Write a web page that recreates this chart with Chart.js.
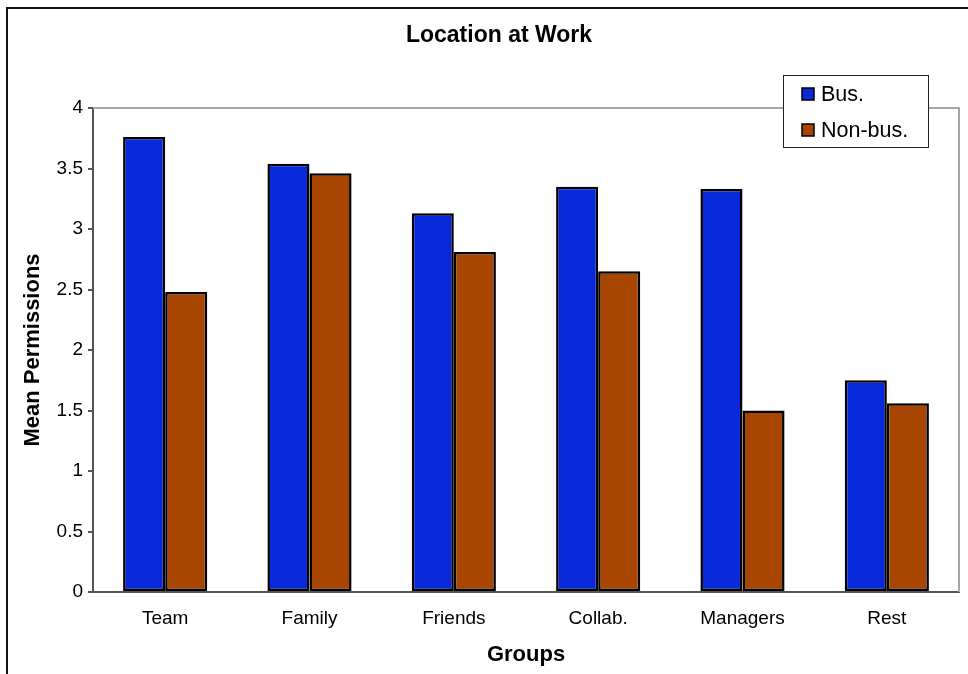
<!DOCTYPE html>
<html lang="en">
<head>
    <meta charset="UTF-8">
    <title>Location at Work</title>
    <style>
        html, body { margin: 0; padding: 0; background: #fff; }
        #wrap { width: 968px; height: 674px; }
    </style>
</head>
<body>
<div id="wrap">
    <canvas id="workChart" width="968" height="674"></canvas>
</div>

<script src="https://cdn.jsdelivr.net/npm/chart.js"></script>
<script>
    // Data
    const groups = ['Team', 'Family', 'Friends', 'Collab.', 'Managers', 'Rest'];
    const busValues = [3.76, 3.54, 3.13, 3.35, 3.33, 1.75];
    const nonBusValues = [2.48, 3.46, 2.81, 2.65, 1.50, 1.56];
    const yTicks = [0, 0.5, 1, 1.5, 2, 2.5, 3, 3.5, 4];
    const chartTitle = 'Location at Work';

    const FONT = "'Liberation Sans', Arial, sans-serif";

    // white background, left/top frame lines, and the title
    const framePlugin = {
        id: 'frame',
        beforeDraw(chart) {
            const c = chart.ctx;
            c.save();
            c.fillStyle = '#fff';
            c.fillRect(0, 0, chart.width, chart.height);
            c.strokeStyle = '#111';
            c.lineWidth = 2;
            c.beginPath();
            c.moveTo(7, chart.height);
            c.lineTo(7, 8);
            c.lineTo(chart.width, 8);
            c.stroke();
            c.fillStyle = '#000';
            c.font = 'bold 23px ' + FONT;
            c.textAlign = 'center';
            c.textBaseline = 'middle';
            c.fillText(chartTitle, 499, 36);
            c.restore();
        },
        // gray top and right edges of the plot area
        beforeDatasetsDraw(chart) {
            const a = chart.chartArea;
            const c = chart.ctx;
            c.save();
            c.strokeStyle = '#a6a6a6';
            c.lineWidth = 2;
            c.beginPath();
            c.moveTo(a.left, a.top);
            c.lineTo(a.right, a.top);
            c.lineTo(a.right, a.bottom);
            c.stroke();
            c.restore();
        }
    };

    // boxed legend at the top right, like the original
    const boxLegend = {
        id: 'boxLegend',
        afterDraw(chart) {
            const c = chart.ctx;
            const x = 783, y = 75, w = 145, h = 72;
            c.save();
            c.fillStyle = '#fff';
            c.fillRect(x, y, w, h);
            c.strokeStyle = '#222';
            c.lineWidth = 1;
            c.strokeRect(x + 0.5, y + 0.5, w, h);
            c.font = '21.5px ' + FONT;
            c.textBaseline = 'middle';
            chart.data.datasets.forEach((ds, i) => {
                const cy = 94 + i * 36;
                c.fillStyle = ds.backgroundColor;
                c.fillRect(802, cy - 6, 12, 12);
                c.strokeStyle = '#000';
                c.lineWidth = 1.5;
                c.strokeRect(802, cy - 6, 12, 12);
                c.fillStyle = '#000';
                c.fillText(ds.label, 821, cy + 1);
            });
            c.restore();
        }
    };

    const ctx = document.getElementById('workChart').getContext('2d');
    const workChart = new Chart(ctx, {
        type: 'bar',
        data: {
            labels: groups,
            datasets: [{
                label: 'Bus.',
                data: busValues,
                backgroundColor: '#0829D9',
                borderColor: '#000',
                borderWidth: 2.5,
                borderSkipped: false,
                categoryPercentage: 0.583,
                barPercentage: 1.0
            }, {
                label: 'Non-bus.',
                data: nonBusValues,
                backgroundColor: '#A84500',
                borderColor: '#000',
                borderWidth: 2.5,
                borderSkipped: false,
                categoryPercentage: 0.583,
                barPercentage: 1.0
            }]
        },
        options: {
            responsive: false,
            animation: false,
            layout: { padding: { left: 8, right: 9, top: 108, bottom: 0 } },
            plugins: {
                legend: { display: false },
                tooltip: { enabled: false },
                title: { display: false }
            },
            scales: {
                x: {
                    grid: { display: false, drawTicks: false },
                    border: { color: '#555', width: 2 },
                    ticks: { color: '#000', padding: 15, font: { family: FONT, size: 19 } },
                    title: {
                        display: true,
                        text: 'Groups',
                        color: '#000',
                        font: { family: FONT, size: 22, weight: 'bold' },
                        padding: { top: 0, bottom: 6 }
                    },
                    afterFit(scale) { scale.height = 82; }
                },
                y: {
                    min: 0,
                    max: 4,
                    afterBuildTicks(scale) {
                        scale.ticks = yTicks.map(v => ({ value: v }));
                    },
                    grid: {
                        drawOnChartArea: false,
                        drawTicks: true,
                        tickLength: 5,
                        color: '#555',
                        lineWidth: 2
                    },
                    border: { color: '#555', width: 2 },
                    ticks: {
                        color: '#000',
                        padding: 5,
                        font: { family: FONT, size: 19 },
                        callback: v => String(v)
                    },
                    title: {
                        display: true,
                        text: 'Mean Permissions',
                        color: '#000',
                        font: { family: FONT, size: 22, weight: 'bold' },
                        padding: { top: 12, bottom: 0 }
                    },
                    afterFit(scale) { scale.width = 85; }
                }
            }
        },
        plugins: [framePlugin, boxLegend]
    });
</script>
</body>
</html>
